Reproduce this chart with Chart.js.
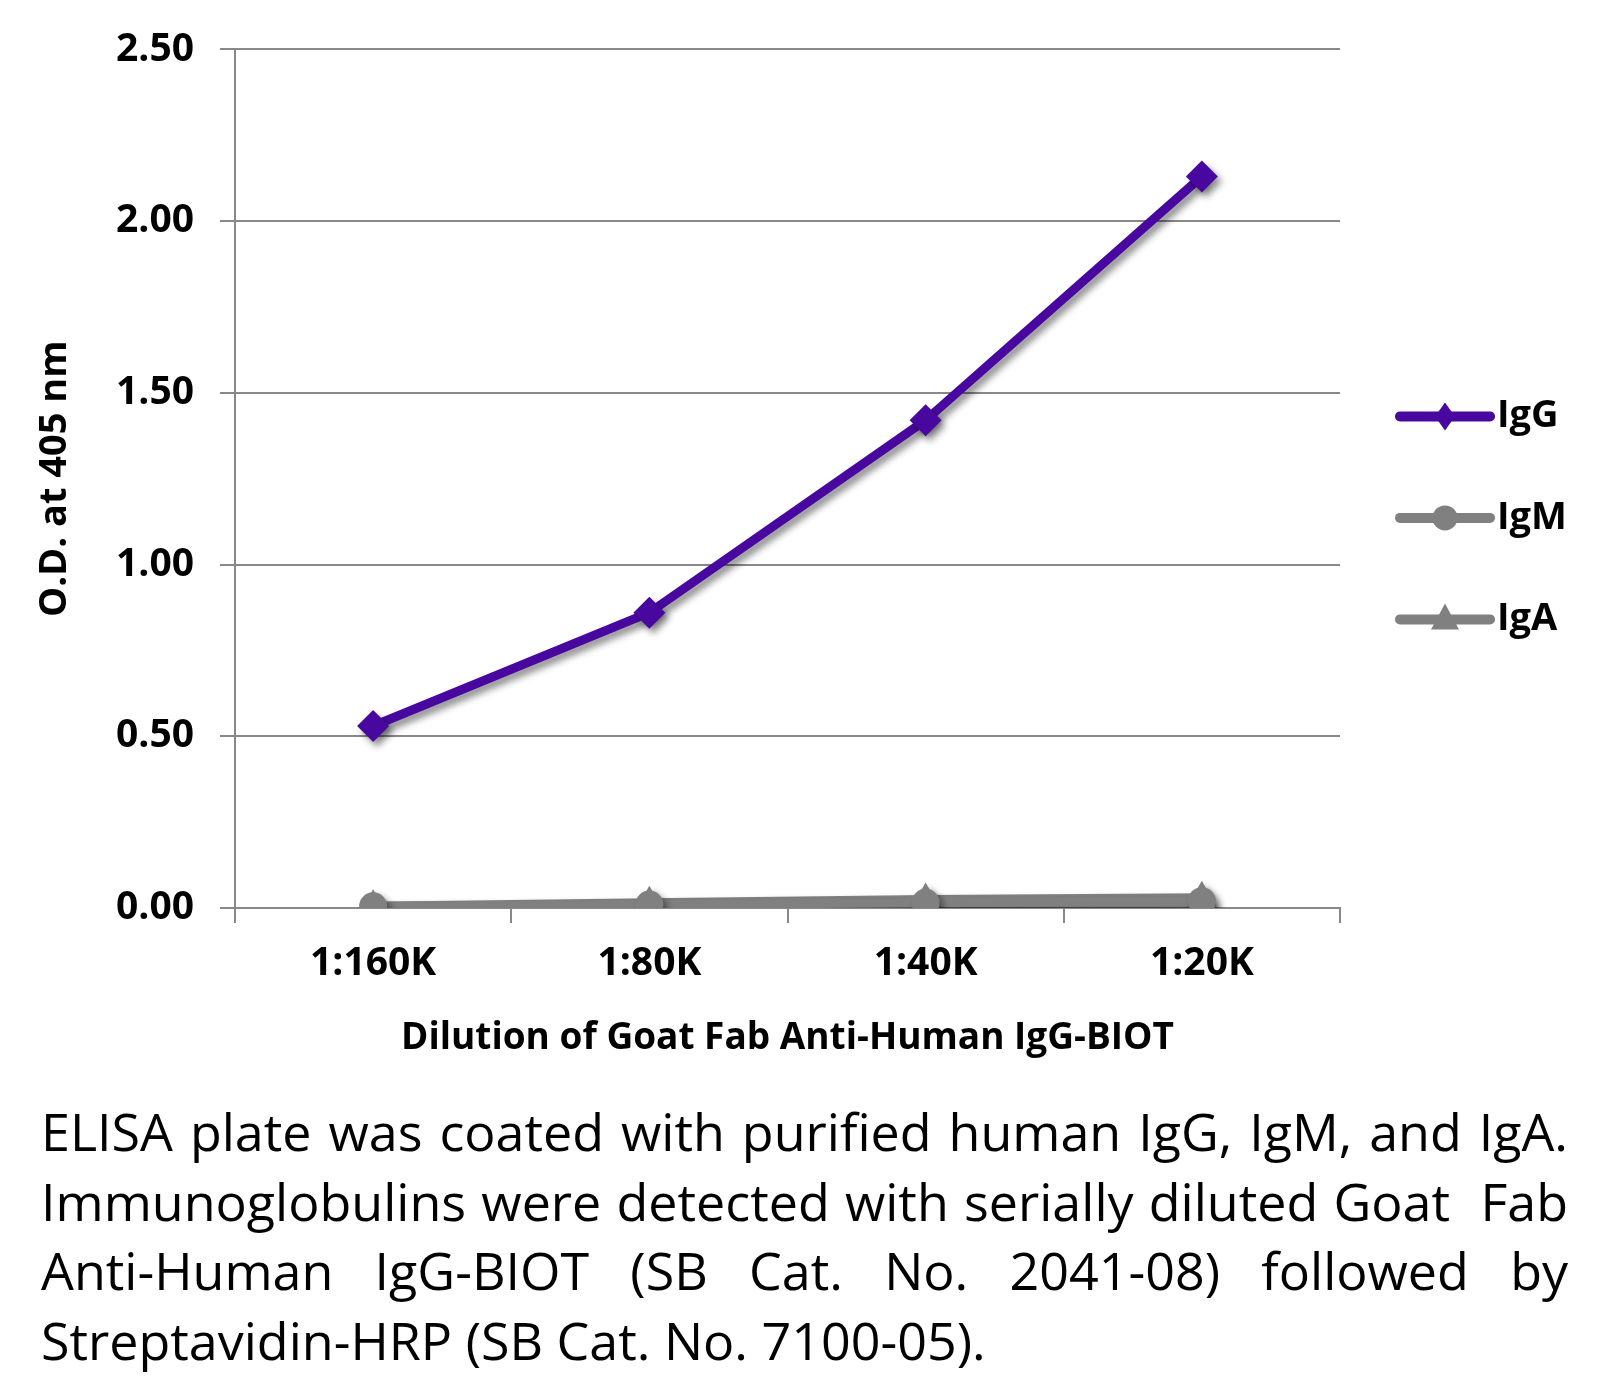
<!DOCTYPE html>
<html>
<head>
<meta charset="utf-8">
<script src="https://cdn.jsdelivr.net/npm/chart.js@4"></script>
<style>
	body { margin: 0; background: #fff; }
	#wrap { position: relative; width: 1605px; height: 1378px; }
	#caption {
		position: absolute; left: 41px; top: 1096px; width: 1527px;
		font-family: "Open Sans", sans-serif; font-size: 52px; line-height: 69.5px; color: #000;
	}
	#caption .j { text-align: justify; text-align-last: justify; }
</style>
</head>
<body>
<div id="wrap">
	<canvas id="myChart" width="1605" height="1090"></canvas>
	<div id="caption">
		<div class="j">ELISA plate was coated with purified human IgG, IgM, and IgA.</div>
		<div class="j">Immunoglobulins were detected with serially diluted Goat&nbsp; Fab</div>
		<div class="j">Anti-Human IgG-BIOT (SB Cat. No. 2041-08) followed by</div>
		<div>Streptavidin-HRP (SB Cat. No. 7100-05).</div>
	</div>
</div>
<script>
// 데이터
const dilutions = ['1:160K', '1:80K', '1:40K', '1:20K'];
const igg = [0.53, 0.86, 1.42, 2.13];
const igm = [0.005, 0.01, 0.015, 0.02];
const iga = [0.005, 0.015, 0.025, 0.03];

const purple = '#48089f';
const gray = '#808080';
const gridGray = '#888888';

// 선 그림자
const shadowPlugin = {
	id: 'shadow',
	beforeDatasetsDraw(chart) {
		const ctx = chart.ctx;
		ctx.save();
		ctx.shadowColor = 'rgba(0,0,0,0.45)';
		ctx.shadowBlur = 7;
		ctx.shadowOffsetX = 4;
		ctx.shadowOffsetY = 5;
	},
	afterDatasetsDraw(chart) {
		chart.ctx.restore();
	}
};

// 오른쪽 범례 (선 + 마커)
const legendPlugin = {
	id: 'sideLegend',
	afterDraw(chart) {
		const ctx = chart.ctx;
		const area = chart.chartArea;
		const x0 = area.right + 60;
		const x1 = area.right + 150;
		const xm = (x0 + x1) / 2;
		chart.data.datasets.forEach((ds, i) => {
			const y = area.top + 367 + i * 101.5;
			ctx.save();
			ctx.strokeStyle = ds.borderColor;
			ctx.fillStyle = ds.borderColor;
			ctx.lineWidth = 10;
			ctx.lineCap = 'round';
			ctx.beginPath();
			ctx.moveTo(x0, y);
			ctx.lineTo(x1, y);
			ctx.stroke();
			ctx.beginPath();
			if (ds.pointStyle === 'rectRot') {
				ctx.moveTo(xm, y - 14);
				ctx.lineTo(xm + 10, y);
				ctx.lineTo(xm, y + 14);
				ctx.lineTo(xm - 10, y);
			} else if (ds.pointStyle === 'circle') {
				ctx.arc(xm, y, 12.5, 0, Math.PI * 2);
			} else {
				ctx.moveTo(xm, y - 16);
				ctx.lineTo(xm + 14, y + 10);
				ctx.lineTo(xm - 14, y + 10);
			}
			ctx.closePath();
			ctx.fill();
			ctx.fillStyle = '#000';
			ctx.font = 'bold 38px "Open Sans"';
			ctx.textBaseline = 'middle';
			ctx.textAlign = 'left';
			ctx.fillText(ds.label, x1 + 7, y);
			ctx.restore();
		});
	}
};

const ctx = document.getElementById('myChart');

new Chart(ctx, {
	type: 'line',
	data: {
		labels: dilutions,
		datasets: [{
			label: 'IgG',
			data: igg,
			borderColor: purple,
			backgroundColor: purple,
			borderWidth: 9,
			pointStyle: 'rectRot',
			pointRadius: 16,
			pointBorderWidth: 0
		}, {
			label: 'IgM',
			data: igm,
			borderColor: gray,
			backgroundColor: gray,
			borderWidth: 9,
			pointStyle: 'circle',
			pointRadius: 14,
			pointBorderWidth: 0
		}, {
			label: 'IgA',
			data: iga,
			borderColor: gray,
			backgroundColor: gray,
			borderWidth: 9,
			pointStyle: 'triangle',
			pointRadius: 17,
			pointBorderWidth: 0
		}]
	},
	options: {
		responsive: false,
		animation: false,
		layout: { padding: { top: 48, right: 265, left: 0, bottom: 0 } },
		plugins: {
			legend: { display: false },
			tooltip: { enabled: false }
		},
		scales: {
			x: {
				offset: true,
				afterFit(scale) { scale.height = 182; },
				grid: {
					offset: true,
					drawOnChartArea: false,
					drawTicks: true,
					tickLength: 15,
					color: gridGray,
					lineWidth: 2
				},
				border: { color: gridGray, width: 2 },
				ticks: {
					color: '#000',
					padding: 17,
					font: { family: 'Open Sans', size: 39, weight: 'bold' }
				},
				title: {
					display: true,
					text: 'Dilution of Goat Fab Anti-Human IgG-BIOT',
					color: '#000',
					padding: { top: 0, bottom: 29 },
					font: { family: 'Open Sans', size: 37, weight: 'bold' }
				}
			},
			y: {
				min: 0,
				max: 2.5,
				afterFit(scale) { scale.width = 235; },
				grid: {
					color: gridGray,
					lineWidth: 2,
					tickLength: 15
				},
				border: { color: gridGray, width: 2 },
				ticks: {
					stepSize: 0.5,
					color: '#000',
					padding: 26,
					font: { family: 'Open Sans', size: 39, weight: 'bold' },
					callback: (v) => v.toFixed(2)
				},
				title: {
					display: true,
					text: 'O.D. at 405 nm',
					color: '#000',
					padding: { top: 32, bottom: 0 },
					font: { family: 'Open Sans', size: 38, weight: 'bold' }
				}
			}
		}
	},
	plugins: [shadowPlugin, legendPlugin]
});
</script>
</body>
</html>
